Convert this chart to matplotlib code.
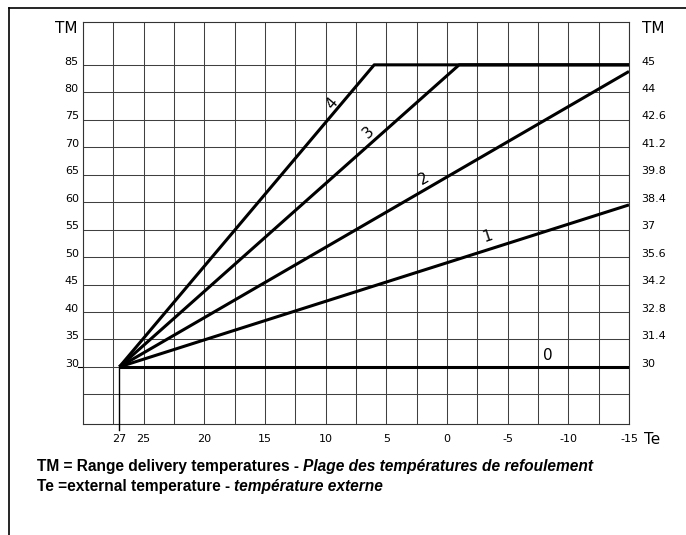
import matplotlib
matplotlib.use("Agg")
import matplotlib.pyplot as plt
from matplotlib.lines import Line2D

# ---- data ----
te_ticks = [27, 25, 20, 15, 10, 5, 0, -5, -10, -15]
tm_left_ticks = [30, 35, 40, 45, 50, 55, 60, 65, 70, 75, 80, 85]
tm_right_labels = ['30', '31.4', '32.8', '34.2', '35.6', '37', '38.4',
                   '39.8', '41.2', '42.6', '44', '45']
curve_names = ['0', '1', '2', '3', '4']
curve_te = [[27, -15], [27, -15], [27, -15], [27, -1, -15], [27, 6, -15]]
curve_tm = [[30, 30], [30, 59.5], [30, 83.8], [30, 85, 85], [30, 85, 85]]
label_te = [-8.3, -3.35, 1.9, 6.5, 9.5]
label_tm = [32.1, 53.7, 64.3, 72.7, 78.0]
label_rot = [0, 18, 30, 42, 50]
grid_te = [30 - 2.5 * i for i in range(19)]
grid_tm = [25, 30, 35, 40, 45, 50, 55, 60, 65, 70, 75, 80, 85]

W, H = 686, 535
fig = plt.figure(figsize=(W / 100, H / 100), dpi=100)
fig.patch.set_facecolor('white')

# outer frame (left & top)
fig.add_artist(Line2D([9 / W, 9 / W], [0, 1 - 8 / H], color='black', lw=1.2,
                      transform=fig.transFigure))
fig.add_artist(Line2D([9 / W, 1], [1 - 8 / H, 1 - 8 / H], color='black', lw=1.2,
                      transform=fig.transFigure))

ax = fig.add_axes([83 / W, 1 - 424 / H, (629 - 83) / W, (424 - 22) / H])
ax.set_xlim(30, -15)
ax.set_ylim(19.6, 92.8)
for s in ax.spines.values():
    s.set_color('#333333')
    s.set_linewidth(0.8)
ax.set_xticks([])
ax.set_yticks([])

gc = '#404040'
for x in grid_te:
    ax.axvline(x, color=gc, lw=0.75, zorder=1)
for y in grid_tm:
    ax.axhline(y, color=gc, lw=0.75, zorder=1)

# small stub at 30 and 27 marker
ax.plot([30.45, 30], [30, 30], color='black', lw=0.8, clip_on=False)
ax.plot([27, 27], [30, 18.5], color='black', lw=1.0, clip_on=False, zorder=3)

for te, tm in zip(curve_te, curve_tm):
    ax.plot(te, tm, color='black', lw=2.2, solid_capstyle='butt', zorder=4)

tick_font = ['Liberation Sans Narrow', 'DejaVu Sans']
for name, x, y, r in zip(curve_names, label_te, label_tm, label_rot):
    ax.text(x, y, name, fontsize=11, rotation=r, ha='center', va='center',
            family=tick_font, zorder=5)

for v in tm_left_ticks:
    ax.text(30.35, v + 0.6, str(v), fontsize=8, ha='right', va='center',
            family=tick_font)
for v, lab in zip(tm_left_ticks, tm_right_labels):
    ax.text(-16.0, v + 0.6, lab, fontsize=8, ha='left', va='center',
            family=tick_font)
for v in te_ticks:
    ax.text(v, 16.8, str(v), fontsize=8, ha='center', va='center',
            family=tick_font)

ax.text(30.45, 91.7, 'TM', fontsize=11, ha='right', va='center', family=tick_font)
ax.text(-16.1, 91.7, 'TM', fontsize=11, ha='left', va='center', family=tick_font)
ax.text(-16.2, 16.8, 'Te', fontsize=11, ha='left', va='center', family=tick_font)

# caption
cap_font = 'Liberation Sans'
cs = 11.2
t1 = fig.text(37 / W, 1 - 467 / H, 'TM = Range delivery temperatures - ',
              fontsize=cs, fontweight='bold', family=cap_font, va='center')
fig.canvas.draw()
bb = t1.get_window_extent()
fig.text(bb.x1 / W, 1 - 467 / H, 'Plage des températures de refoulement',
         fontsize=cs, fontweight='bold', style='italic', family=cap_font, va='center')
t2 = fig.text(37 / W, 1 - 486 / H, 'Te =external temperature - ',
              fontsize=cs, fontweight='bold', family=cap_font, va='center')
fig.canvas.draw()
bb2 = t2.get_window_extent()
fig.text(bb2.x1 / W, 1 - 486 / H, 'température externe',
         fontsize=cs, fontweight='bold', style='italic', family=cap_font, va='center')

fig.savefig('out.png', dpi=100)
